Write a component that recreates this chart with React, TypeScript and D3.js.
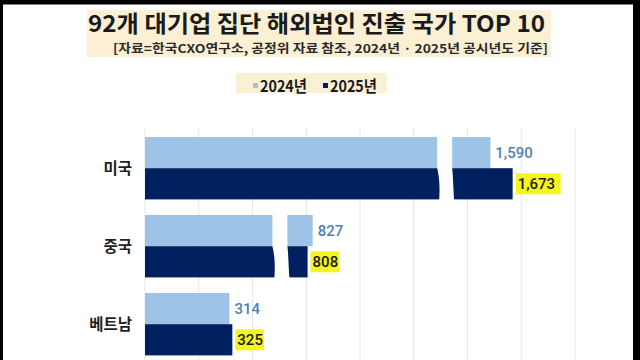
import React from 'react';
import * as d3 from 'd3';

const categories = ['미국', '중국', '베트남'];
const series = ['2024년', '2025년'];
const values2024 = [1590, 827, 314];
const values2025 = [1673, 808, 325];
// amount of value hidden by the axis break for each category
const breakShift = [305, 203, 0];
// position (in displayed units) of the break gap
const breakAt = [1115, 502, 0];
const gridTicks = [0, 200, 400, 600, 800, 1000, 1200, 1400, 1600];
const titleText = '92개 대기업 집단 해외법인 진출 국가 TOP 10';
const subtitleText = '[자료=한국CXO연구소, 공정위 자료 참조, 2024년 · 2025년 공시년도 기준]';

const W = 640;
const H = 360;
const LIGHT = '#9dc3e6';
const DARK = '#002060';
const BEIGE = '#fbf0d3';
const KFONT = '"Noto Sans CJK KR", "Noto Sans", sans-serif';
const NFONT = 'Roboto, "Noto Sans", sans-serif';

export default function App() {
  const x = d3.scaleLinear().domain([0, 1600]).range([145, 575]);
  const y = d3.scaleBand<string>().domain(categories).range([129.2, 363.2]).paddingInner(0.2).paddingOuter(0.1);
  const ys = d3.scaleBand<string>().domain(series).range([0, y.bandwidth()]);
  const fmt = d3.format(',');
  const gapPx = 15;

  return (
    <svg width={W} height={H} style={{ position: 'absolute', left: 0, top: 0, background: '#fff' }}>
      <rect x={0} y={0} width={W} height={H} fill="#fff" />
      {/* title block */}
      <rect x={87} y={10} width={464} height={47} fill={BEIGE} />
      <text x={88} y={32} fontFamily={KFONT} fontWeight={700} fontSize={23} fill="#1a1a1a"
        textLength={457} lengthAdjust="spacingAndGlyphs">{titleText}</text>
      <text x={113} y={52.5} fontFamily={KFONT} fontWeight={700} fontSize={12} fill="#2a2a2a"
        textLength={435} lengthAdjust="spacingAndGlyphs">{subtitleText}</text>
      {/* legend */}
      <rect x={236} y={73} width={151} height={20} fill={BEIGE} />
      {series.map((s, i) => {
        const lx = 253 + i * 70;
        return (
          <g key={s}>
            <rect x={lx} y={83} width={5} height={5} fill={i === 0 ? LIGHT : DARK} />
            <text x={lx + 7} y={91.5} fontFamily={KFONT} fontWeight={700} fontSize={16} fill="#1a1a1a"
              textLength={47} lengthAdjust="spacingAndGlyphs">{s}</text>
          </g>
        );
      })}
      {/* gridlines */}
      {gridTicks.map((t) => (
        <line key={t} x1={x(t)} x2={x(t)} y1={128} y2={H} stroke="#e6e6e6" strokeWidth={1} />
      ))}
      {/* bars */}
      {categories.map((c, i) => {
        const y0 = y(c) as number;
        const vals = [values2024[i], values2025[i]];
        const shift = breakShift[i];
        const hb = ys.bandwidth();
        const top = y0;
        const mid = y0 + hb;
        const bot = y0 + 2 * hb;
        let gap: React.ReactNode = null;
        if (shift > 0) {
          const gx = x(breakAt[i]);
          const xl = gx - gapPx / 2;
          const xr = gx + gapPx / 2;
          const d = `M${xl},${top - 1} L${xl},${mid} C${xl + 2},${mid + 8} ${xl + 3},${mid + 18} ${xl + 2},${bot + 1}` +
            ` L${xr + 2},${bot + 1} C${xr + 1},${mid + 18} ${xr + 1},${mid + 8} ${xr},${mid} L${xr},${top - 1} Z`;
          gap = <path d={d} fill="#fff" />;
        }
        return (
          <g key={c}>
            {vals.map((v, j) => {
              const by = y0 + (ys(series[j]) as number);
              const bx = x(v - shift);
              const cy = by + hb / 2;
              const label = fmt(v);
              const boxW = label.length * 8.2 + 4;
              return (
                <g key={j}>
                  <rect x={x(0)} y={by} width={bx - x(0)} height={hb} fill={j === 0 ? LIGHT : DARK} />
                  {j === 0 ? (
                    <text x={bx + 5} y={cy} dy="0.36em" fontFamily={NFONT} fontWeight={500} fontSize={15}
                      fill="#4f7fb3">{label}</text>
                  ) : (
                    <g>
                      <rect x={bx + 3} y={cy - 10.5} width={boxW} height={21} fill="#f5f51e" />
                      <text x={bx + 5} y={cy} dy="0.36em" fontFamily={NFONT} fontWeight={500} fontSize={15}
                        fill="#1a1a1a">{label}</text>
                    </g>
                  )}
                </g>
              );
            })}
            {gap}
            <text x={132} y={y0 + hb} dy="0.36em" textAnchor="end" fontFamily={KFONT} fontWeight={700}
              fontSize={15.5} fill="#1f1f1f">{c}</text>
          </g>
        );
      })}
      {/* frame */}
      <rect x={0} y={0} width={W} height={4.5} fill="#000" />
      <rect x={0} y={0} width={3} height={H} fill="#000" />
      <rect x={633} y={0} width={7} height={H} fill="#000" />
    </svg>
  );
}
